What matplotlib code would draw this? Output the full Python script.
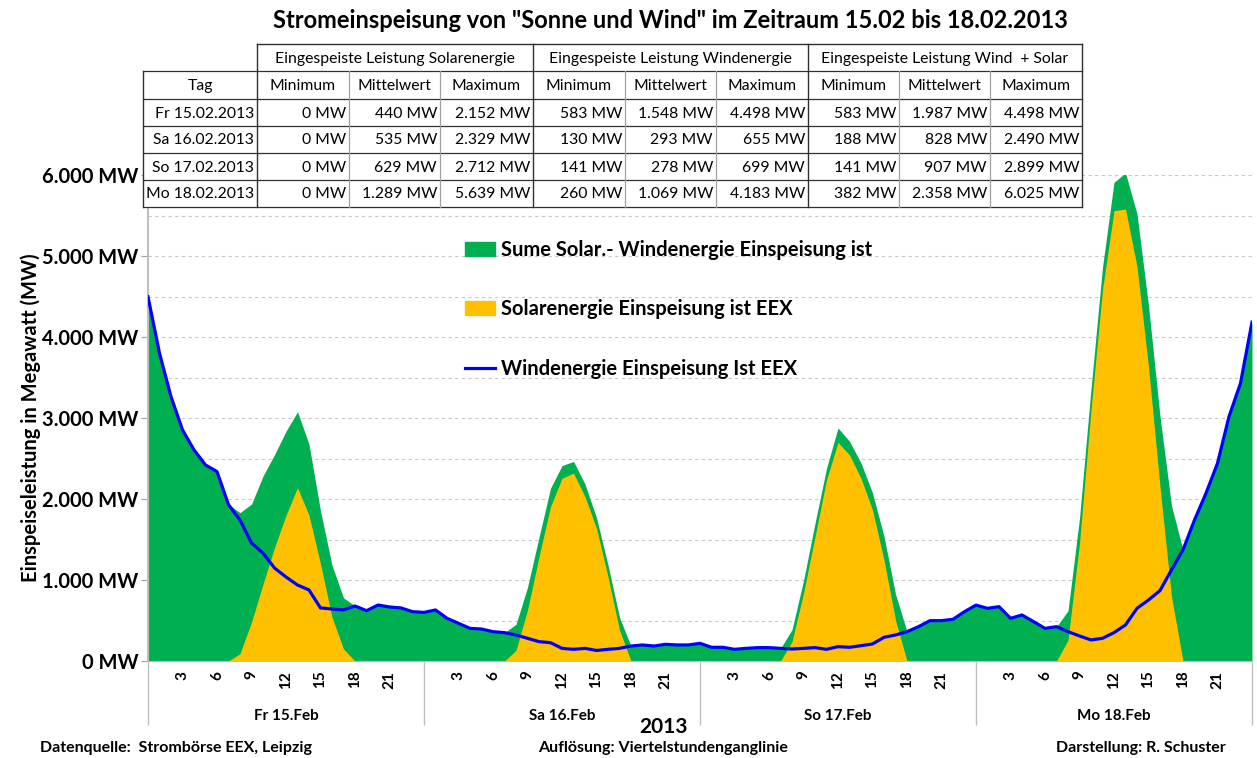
import numpy as np
import matplotlib.pyplot as plt
from matplotlib.patches import Patch, Rectangle
from matplotlib.lines import Line2D

plt.rcParams['font.family'] = ['Lato', 'DejaVu Sans']

# hourly values 15.02. 0:00 to 19.02. 0:00 (MW)
wind = [4498, 3800, 3264, 2853, 2606, 2420, 2338, 1930, 1741, 1457, 1333, 1148,
        1037, 938, 877, 655, 642, 630, 679, 621, 691, 667, 655, 609,
        600, 630, 527, 465, 403, 395, 362, 350, 321, 280, 239, 226,
        156, 144, 156, 130, 144, 156, 185, 198, 185, 206, 198, 198,
        218, 169, 169, 144, 156, 165, 165, 156, 148, 156, 165, 144,
        177, 169, 189, 210, 292, 321, 362, 424, 498, 498, 515, 609,
        690, 650, 671, 527, 568, 486, 403, 424, 362, 309, 260, 280,
        350, 445, 650, 753, 869, 1124, 1371, 1741, 2071, 2441, 3017, 3429,
        4183]
solar = [0, 0, 0, 0, 0, 0, 0, 0, 91, 480, 950, 1400,
         1800, 2140, 1800, 1200, 540, 150, 0, 0, 0, 0, 0, 0,
         0, 0, 0, 0, 0, 0, 0, 0, 132, 630, 1288, 1906,
         2256, 2320, 2029, 1638, 1041, 383, 0, 0, 0, 0, 0, 0,
         0, 0, 0, 0, 0, 0, 0, 0, 239, 836, 1535, 2235,
         2700, 2544, 2256, 1865, 1247, 506, 0, 0, 0, 0, 0, 0,
         0, 0, 0, 0, 0, 0, 0, 0, 259, 1453, 3100, 4582,
         5560, 5580, 4870, 3635, 2153, 794, 0, 0, 0, 0, 0, 0,
         0]

days = ['Fr 15.Feb', 'Sa 16.Feb', 'So 17.Feb', 'Mo 18.Feb']
hour_labels = ['3', '6', '9', '12', '15', '18', '21']

# table values
tag = ['Fr 15.02.2013', 'Sa 16.02.2013', 'So 17.02.2013', 'Mo 18.02.2013']
solar_min = [0, 0, 0, 0]
solar_mean = [440, 535, 629, 1289]
solar_max = [2152, 2329, 2712, 5639]
wind_min = [583, 130, 141, 260]
wind_mean = [1548, 293, 278, 1069]
wind_max = [4498, 655, 699, 4183]
sum_min = [583, 188, 141, 382]
sum_mean = [1987, 828, 907, 2358]
sum_max = [4498, 2490, 2899, 6025]

green = '#00B050'
yellow = '#FFC000'
blue = '#0000FF'
grid = '#C8C8C8'

fig = plt.figure(figsize=(12.57, 7.58), dpi=100)
W, H = 1257, 758
ax = fig.add_axes([148 / W, 1 - 661 / H, (1252 - 148) / W, (661 - 175) / H])

x = np.arange(len(wind))
total = np.array(wind) + np.array(solar)
ax.fill_between(x, 0, total, color=green, lw=0, zorder=2)
ax.fill_between(x, 0, solar, color=yellow, lw=0, zorder=3)
ax.plot(x, wind, color=blue, lw=2.3, zorder=4)

ax.set_xlim(0, 96)
ax.set_ylim(0, 6000)

# grid every 500 MW
for g in range(500, 6001, 500):
    ax.axhline(g, color=grid, lw=0.8, ls=(0, (3, 3)), zorder=1)

ax.set_yticks(range(0, 6001, 1000))
ax.set_yticklabels([f'{v:,}'.replace(',', '.') + ' MW' for v in range(0, 6001, 1000)],
                   fontsize=14.5, fontweight='bold')
ax.tick_params(axis='y', length=5, color='#A0A0A0', pad=2)
ax.set_ylabel('Einspeiseleistung in Megawatt (MW)', fontsize=14.5, fontweight='bold', labelpad=1)

ax.set_xticks([0, 24, 48, 72, 96])
ax.set_xticklabels([])
ax.tick_params(axis='x', which='major', length=46, color='#BFBFBF', width=1)
minor = [d * 24 + int(h) for d in range(4) for h in hour_labels]
ax.set_xticks(minor, minor=True)
ax.set_xticklabels(hour_labels * 4, minor=True, rotation=90, fontsize=11, fontweight='bold')
ax.tick_params(axis='x', which='minor', length=0, pad=7)

for i, d in enumerate(days):
    ax.annotate(d, xy=(i * 24 + 12, 0), xycoords=('data', 'axes fraction'),
                xytext=(0, -39.5), textcoords='offset points', ha='center', va='center',
                fontsize=11, fontweight='bold')

for s in ['top', 'right']:
    ax.spines[s].set_visible(False)
ax.spines['left'].set_color('#BFBFBF')
ax.spines['left'].set_linewidth(1.5)
ax.spines['bottom'].set_color('#BFBFBF')

handles = [Patch(color=green), Patch(color=yellow), Line2D([], [], color=blue, lw=2.3)]
labels = ['Sume Solar.- Windenergie Einspeisung ist',
          'Solarenergie Einspeisung ist EEX',
          'Windenergie Einspeisung Ist EEX']
ax.legend(handles, labels, loc='upper left', bbox_to_anchor=(447 / W, 1 - 222 / H),
          bbox_transform=fig.transFigure, frameon=False, handlelength=1.5,
          handletextpad=0.3, labelspacing=1.95, prop={'weight': 'bold', 'size': 14.5})

# overlay in pixel coordinates for title, table and footer
ov = fig.add_axes([0, 0, 1, 1], zorder=10)
ov.set_xlim(0, W)
ov.set_ylim(H, 0)
ov.axis('off')
ov.patch.set_alpha(0)

ov.text(670, 20, 'Stromeinspeisung von "Sonne und Wind" im Zeitraum 15.02 bis 18.02.2013',
        ha='center', va='center', fontsize=17, fontweight='bold')

cols = [143, 257, 349, 440, 533, 625, 716, 808, 899, 990, 1082]
rows = [44, 71, 99, 126, 153, 180, 207]
ov.add_patch(Rectangle((cols[1], rows[0]), cols[-1] - cols[1], rows[1] - rows[0],
                       facecolor='white', edgecolor='none'))
ov.add_patch(Rectangle((cols[0], rows[1]), cols[-1] - cols[0], rows[-1] - rows[1],
                       facecolor='white', edgecolor='none'))
dark, light = '#303030', '#A0A0A0'
for r in rows[1:]:
    ov.plot([cols[0], cols[-1]], [r, r], color=dark, lw=0.9)
ov.plot([cols[1], cols[-1]], [rows[0], rows[0]], color=dark, lw=1.0)
for j, c in enumerate(cols):
    top = rows[1] if j == 0 else rows[0]
    if j in (0, 1, 4, 7, 10):
        ov.plot([c, c], [top, rows[-1]], color=dark, lw=1.0)
    else:
        ov.plot([c, c], [rows[1], rows[-1]], color=light, lw=0.9)

fs = 11.3
groups = ['Eingespeiste Leistung Solarenergie', 'Eingespeiste Leistung Windenergie',
          'Eingespeiste Leistung Wind  + Solar']
for k, g in enumerate(groups):
    ov.text((cols[1 + 3 * k] + cols[4 + 3 * k]) / 2, (rows[0] + rows[1]) / 2 + 1, g,
            ha='center', va='center', fontsize=fs)
sub = ['Tag'] + ['Minimum', 'Mittelwert', 'Maximum'] * 3
for j, s in enumerate(sub):
    ov.text((cols[j] + cols[j + 1]) / 2, (rows[1] + rows[2]) / 2 + 1, s,
            ha='center', va='center', fontsize=fs)

series = [solar_min, solar_mean, solar_max, wind_min, wind_mean, wind_max,
          sum_min, sum_mean, sum_max]
for i in range(4):
    yc = (rows[2 + i] + rows[3 + i]) / 2 + 1
    ov.text(cols[1] - 3, yc, tag[i], ha='right', va='center', fontsize=fs)
    for j, s in enumerate(series):
        ov.text(cols[j + 2] - 3, yc, f'{s[i]:,}'.replace(',', '.') + ' MW',
                ha='right', va='center', fontsize=fs)

ov.text(664, 727, '2013', ha='center', va='center', fontsize=15, fontweight='bold')
ov.text(40, 748, 'Datenquelle:  Strombörse EEX, Leipzig', ha='left', va='center',
        fontsize=11.5, fontweight='bold')
ov.text(538, 748, 'Auflösung: Viertelstundenganglinie', ha='left', va='center',
        fontsize=11.5, fontweight='bold')
ov.text(1226, 748, 'Darstellung: R. Schuster', ha='right', va='center',
        fontsize=11.5, fontweight='bold')

fig.savefig('out.png', dpi=100)
